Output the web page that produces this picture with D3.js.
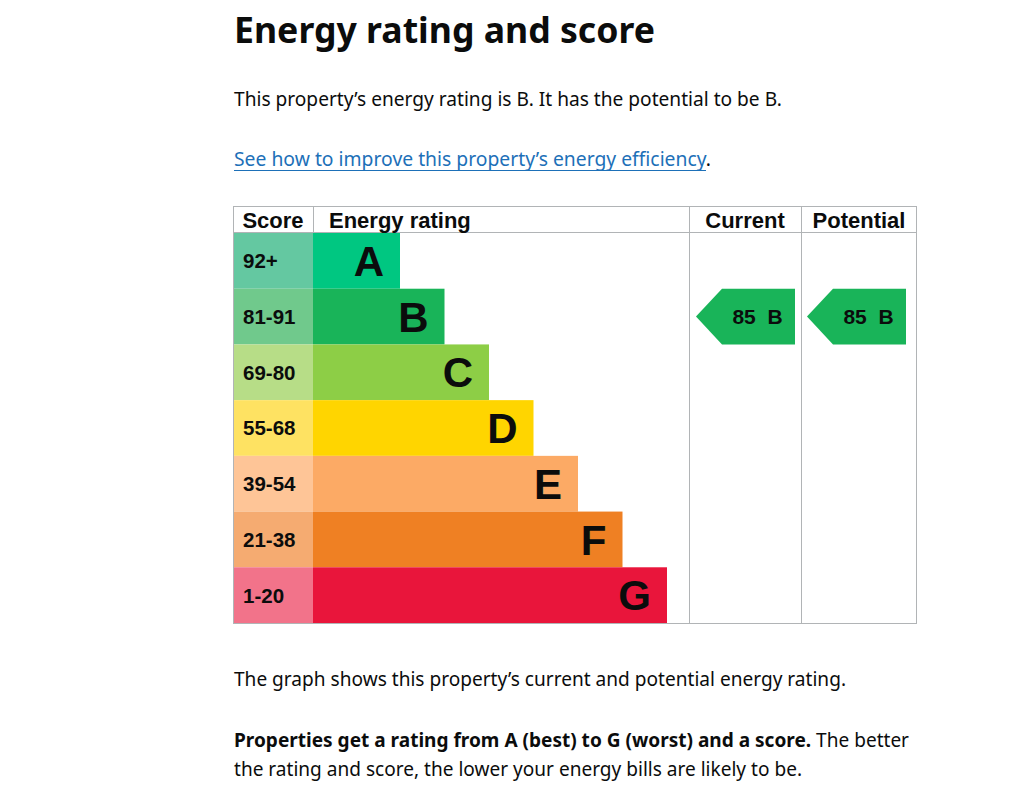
<!DOCTYPE html>
<meta charset="utf-8">
<script src="https://d3js.org/d3.v7.min.js"></script>
<style>
  body { margin: 0; background: #fff; }
  svg { display: block; }
</style>
<body>
<svg width="1024" height="790"></svg>
</body>
<script>

// data
var ratings = ["A", "B", "C", "D", "E", "F", "G"];
var scoreRanges = ["92+", "81-91", "69-80", "55-68", "39-54", "21-38", "1-20"];
var barColors = ["#00c781", "#19b459", "#8dce46", "#ffd500", "#fcaa65", "#ef8023", "#e9153b"];
var scoreColors = ["#64c8a1", "#70c98c", "#b7dd87", "#fee262", "#fec597", "#f5ab71", "#f2738a"];
var columns = ["Score", "Energy rating", "Current", "Potential"];
var currentScore = 85, currentRating = "B";
var potentialScore = 85, potentialRating = "B";

var svg = d3.select("svg");
var textFont = "'Noto Sans', sans-serif";
var chartFont = "'Liberation Sans', Arial, sans-serif";

// page text
svg.append("text")
    .attr("x", 234).attr("y", 43)
    .attr("font-family", textFont).attr("font-weight", "bold")
    .attr("font-size", 36).attr("fill", "#0b0c0c")
    .attr("textLength", 421).attr("lengthAdjust", "spacingAndGlyphs")
    .text("Energy rating and score");

svg.append("text")
    .attr("x", 234).attr("y", 106)
    .attr("font-family", textFont).attr("font-size", 19).attr("fill", "#0b0c0c")
    .attr("textLength", 548).attr("lengthAdjust", "spacingAndGlyphs")
    .text("This property\u2019s energy rating is " + currentRating + ". It has the potential to be " + potentialRating + ".");

var link = svg.append("text")
    .attr("x", 234).attr("y", 166)
    .attr("font-family", textFont).attr("font-size", 19);
link.append("tspan").attr("fill", "#1d70b8")
    .text("See how to improve this property\u2019s energy efficiency");
link.append("tspan").attr("fill", "#0b0c0c").text(".");
link.attr("textLength", 477).attr("lengthAdjust", "spacingAndGlyphs");
svg.append("line")
    .attr("x1", 234).attr("x2", 706).attr("y1", 170.5).attr("y2", 170.5)
    .attr("stroke", "#1d70b8").attr("stroke-width", 1.2);

svg.append("text")
    .attr("x", 234).attr("y", 686)
    .attr("font-family", textFont).attr("font-size", 19).attr("fill", "#0b0c0c")
    .attr("textLength", 612).attr("lengthAdjust", "spacingAndGlyphs")
    .text("The graph shows this property\u2019s current and potential energy rating.");

var p2 = svg.append("text")
    .attr("x", 234).attr("y", 747)
    .attr("font-family", textFont).attr("font-size", 19).attr("fill", "#0b0c0c")
    .attr("textLength", 675).attr("lengthAdjust", "spacingAndGlyphs");
p2.append("tspan").attr("font-weight", "bold")
    .text("Properties get a rating from A (best) to G (worst) and a score.");
p2.append("tspan").text(" The better");

svg.append("text")
    .attr("x", 234).attr("y", 776)
    .attr("font-family", textFont).attr("font-size", 19).attr("fill", "#0b0c0c")
    .attr("textLength", 568).attr("lengthAdjust", "spacingAndGlyphs")
    .text("the rating and score, the lower your energy bills are likely to be.");

// chart
var tLeft = 233, tRight = 917, tTop = 206, headerH = 27, tBottom = 623;
var colEdges = [233, 313, 689, 801, 917];

var y = d3.scaleBand()
    .domain(ratings)
    .range([tTop + headerH, tBottom]);

// bar end by rating index
var barEnd = d3.scaleLinear()
    .domain([0, ratings.length - 1])
    .range([400, 667]);

var g = svg.append("g");

// score cells
g.selectAll(".score")
  .data(ratings)
  .enter().append("rect")
    .attr("x", colEdges[0])
    .attr("y", function(d) { return y(d); })
    .attr("width", colEdges[1] - colEdges[0])
    .attr("height", y.bandwidth())
    .attr("fill", function(d, i) { return scoreColors[i]; });

g.selectAll(".scoreText")
  .data(ratings)
  .enter().append("text")
    .attr("x", 243)
    .attr("y", function(d) { return y(d) + y.bandwidth() / 2; })
    .attr("dy", "0.36em")
    .attr("font-family", chartFont).attr("font-weight", "bold")
    .attr("font-size", 20.5).attr("fill", "#0b0c0c")
    .text(function(d, i) { return scoreRanges[i]; });

// rating bars
g.selectAll(".bar")
  .data(ratings)
  .enter().append("rect")
    .attr("x", colEdges[1])
    .attr("y", function(d) { return y(d); })
    .attr("width", function(d, i) { return barEnd(i) - colEdges[1]; })
    .attr("height", y.bandwidth())
    .attr("fill", function(d, i) { return barColors[i]; });

g.selectAll(".barText")
  .data(ratings)
  .enter().append("text")
    .attr("x", function(d, i) { return barEnd(i) - 16; })
    .attr("y", function(d) { return y(d) + y.bandwidth() / 2; })
    .attr("dy", "0.36em")
    .attr("text-anchor", "end")
    .attr("font-family", chartFont).attr("font-weight", "bold")
    .attr("font-size", 42).attr("fill", "#0b0c0c")
    .text(function(d) { return d; });

// grid lines
var gridColor = "#b1b4b6";
g.append("rect")
    .attr("x", tLeft + 0.5).attr("y", tTop + 0.5)
    .attr("width", tRight - tLeft - 1).attr("height", tBottom - tTop)
    .attr("fill", "none").attr("stroke", gridColor);
g.append("line")
    .attr("x1", tLeft).attr("x2", tRight)
    .attr("y1", tTop + headerH - 0.5).attr("y2", tTop + headerH - 0.5)
    .attr("stroke", gridColor);
g.append("line")
    .attr("x1", colEdges[1] + 0.5).attr("x2", colEdges[1] + 0.5)
    .attr("y1", tTop).attr("y2", tTop + headerH)
    .attr("stroke", gridColor);
g.selectAll(".vline")
  .data([colEdges[2], colEdges[3]])
  .enter().append("line")
    .attr("x1", function(d) { return d + 0.5; })
    .attr("x2", function(d) { return d + 0.5; })
    .attr("y1", tTop).attr("y2", tBottom)
    .attr("stroke", gridColor);

// headers
var headerX = [273, 329, 745, 859];
var headerAnchor = ["middle", "start", "middle", "middle"];
g.selectAll(".header")
  .data(columns)
  .enter().append("text")
    .attr("x", function(d, i) { return headerX[i]; })
    .attr("y", tTop + headerH / 2 + 1)
    .attr("dy", "0.36em")
    .attr("text-anchor", function(d, i) { return headerAnchor[i]; })
    .attr("font-family", chartFont).attr("font-weight", "bold")
    .attr("font-size", 22).attr("fill", "#0b0c0c")
    .text(function(d) { return d; });

// arrows
function arrow(x0, x1, rating, score) {
  var yt = y(rating), h = y.bandwidth(), tip = 26;
  var colour = barColors[ratings.indexOf(rating)];
  g.append("path")
      .attr("d", "M" + x0 + "," + (yt + h / 2) +
                 "L" + (x0 + tip) + "," + yt +
                 "L" + x1 + "," + yt +
                 "L" + x1 + "," + (yt + h) +
                 "L" + (x0 + tip) + "," + (yt + h) + "Z")
      .attr("fill", colour);
  g.append("text")
      .attr("x", (x0 + tip + x1) / 2 - 1)
      .attr("y", yt + h / 2)
      .attr("dy", "0.36em")
      .attr("text-anchor", "middle")
      .attr("font-family", chartFont).attr("font-weight", "bold")
      .attr("font-size", 21).attr("fill", "#0b0c0c")
      .attr("xml:space", "preserve")
      .text(score + "  " + rating);
}
arrow(696, 795, currentRating, currentScore);
arrow(807, 906, potentialRating, potentialScore);

</script>
